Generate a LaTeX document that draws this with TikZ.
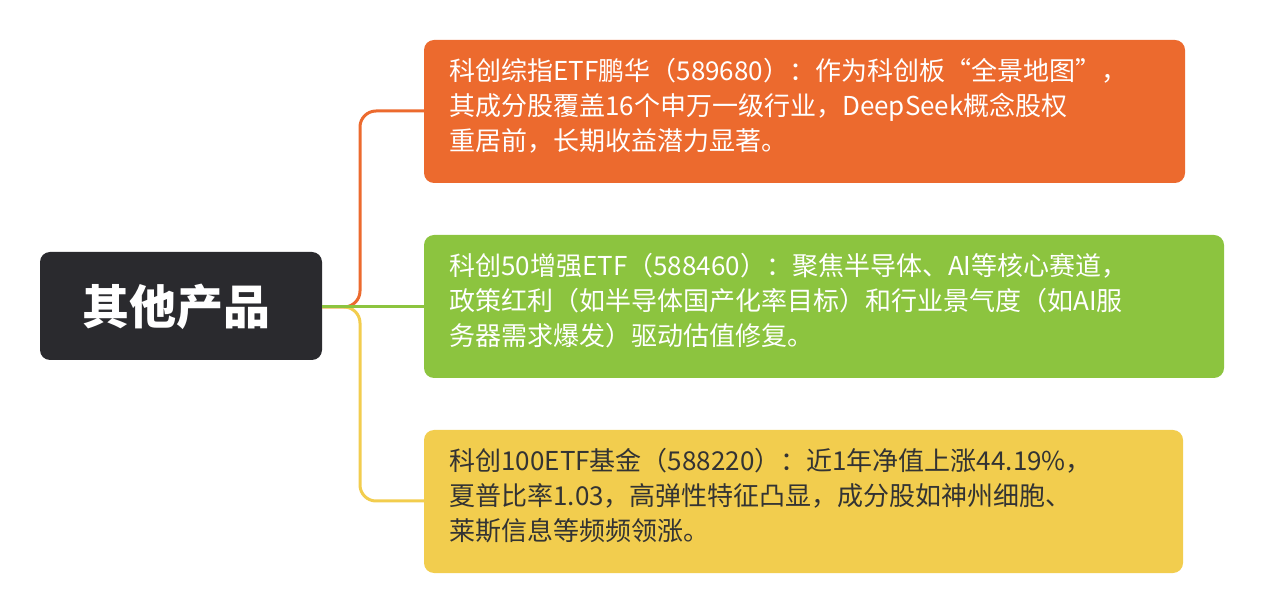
\documentclass[tikz,border=0pt]{standalone}
\usepackage{fontspec}
\setmainfont{Noto Sans CJK SC}
\usetikzlibrary{positioning}
\definecolor{rootbg}{HTML}{2A2A2E}
\definecolor{orangebg}{HTML}{EC6A2E}
\definecolor{greenbg}{HTML}{8CC43F}
\definecolor{yellowbg}{HTML}{F2CD4E}
\definecolor{darktext}{HTML}{333333}
\begin{document}
\begin{tikzpicture}[x=0.5pt,y=-0.5pt]
\tikzstyle{item}=[rounded corners=5pt,draw=none]
\tikzstyle{itemtext}=[anchor=north west,inner sep=0pt,align=left,font=\fontsize{13}{17.5}\selectfont]
\tikzstyle{branch}=[line width=1.5pt,rounded corners=8pt]
\useasboundingbox (0,0) rectangle (1264,614);

\fill[item,rootbg] (40,252) rectangle (322,360);
\node[text=white,font=\fontsize{23.5}{26}\bfseries\selectfont] (root) at (177,307) {其他产品};
\coordinate (rootout) at (322,307);

\fill[item,orangebg] (424,40) rectangle (1185,183);
\coordinate (b1) at (424,111);
\node[itemtext,text=white] (t1) at (449,58) {科创综指ETF鹏华（589680）：作为科创板“全景地图”，\\其成分股覆盖16个申万一级行业，DeepSeek概念股权\\重居前，长期收益潜力显著。};

\fill[item,greenbg] (424,235) rectangle (1224,378);
\coordinate (b2) at (424,307);
\node[itemtext,text=white] (t2) at (449,253) {科创50增强ETF（588460）：聚焦半导体、AI等核心赛道，\\政策红利（如半导体国产化率目标）和行业景气度（如AI服\\务器需求爆发）驱动估值修复。};

\fill[item,yellowbg] (424,430) rectangle (1183,573);
\coordinate (b3) at (424,501);
\node[itemtext,text=darktext] (t3) at (449,448) {科创100ETF基金（588220）：近1年净值上涨44.19\%，\\夏普比率1.03，高弹性特征凸显，成分股如神州细胞、\\莱斯信息等频频领涨。};

\draw[branch,orangebg] (rootout) -| (360,111) -- (b1);
\draw[branch,yellowbg] (rootout) -| (360,501) -- (b3);
\draw[branch,greenbg] (rootout) -- (b2);
\end{tikzpicture}
\end{document}
